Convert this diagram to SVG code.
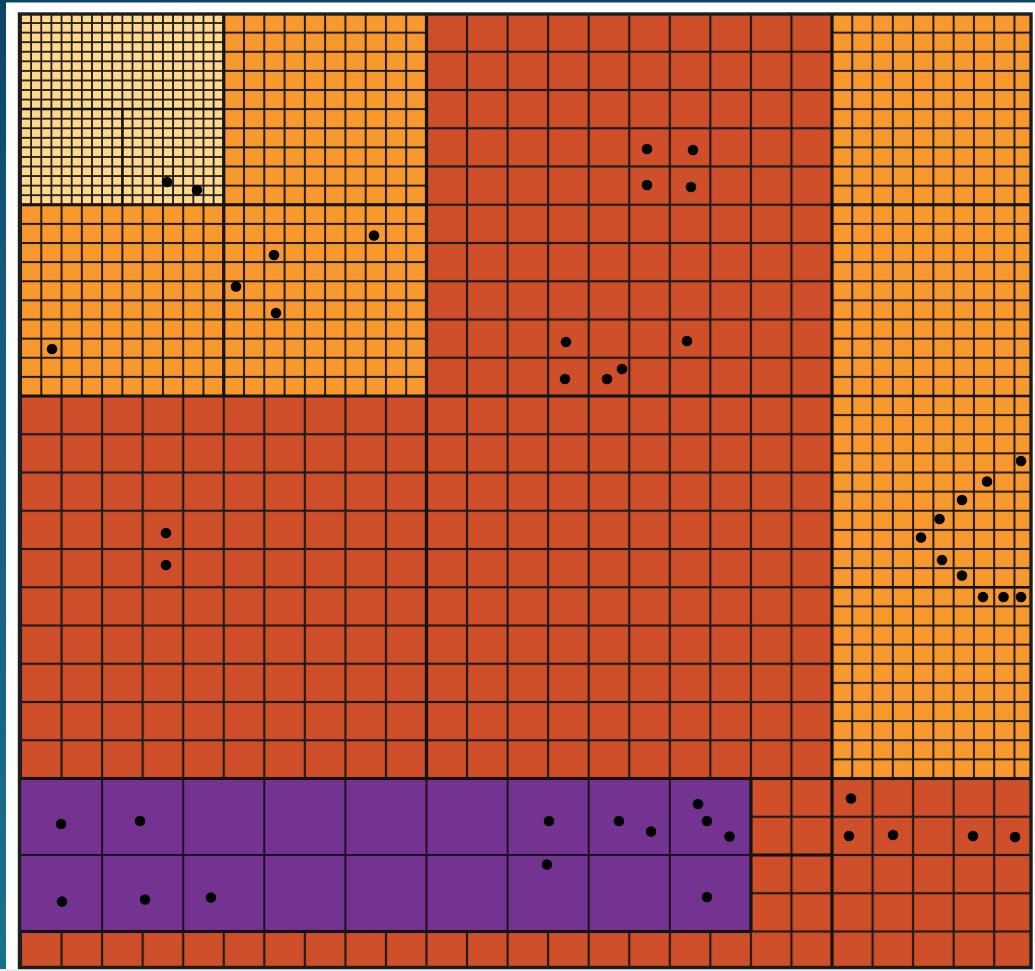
<svg xmlns="http://www.w3.org/2000/svg" width="1035" height="971" viewBox="0 0 1035 971">
  <defs>
    <linearGradient id="bgBlue" x1="0" y1="0" x2="0" y2="1">
      <stop offset="0" stop-color="#0a4466"/>
      <stop offset="0.3" stop-color="#145a80"/>
      <stop offset="1" stop-color="#1a6f8e"/>
    </linearGradient>
    <pattern id="pRed" patternUnits="userSpaceOnUse" x="21" y="13.5" width="40.55" height="38.25">
      <rect width="40.55" height="38.25" fill="#cf4f2b" stroke="#211a16" stroke-width="2.2"/>
    </pattern>
    <pattern id="pOrange" patternUnits="userSpaceOnUse" x="21" y="13.5" width="20.275" height="19.125">
      <rect width="20.275" height="19.125" fill="#f7992c" stroke="#211a16" stroke-width="2"/>
    </pattern>
    <pattern id="pYellow" patternUnits="userSpaceOnUse" x="21" y="13.5" width="10.1375" height="9.5625">
      <rect width="10.1375" height="9.5625" fill="#fed88e" stroke="#211a16" stroke-width="1.8"/>
    </pattern>
    <style>
      .thick { stroke: #161210; stroke-width: 3.2; fill: none; }
      .mid { stroke: #161210; stroke-width: 2.5; fill: none; }
      .pline { stroke: #1d1220; stroke-width: 2; fill: none; }
      .dot { fill: #000000; }
    </style>
  </defs>

  <g id="background">
    <rect x="0" y="0" width="1035" height="971" fill="#ffffff"/>
    <rect x="0" y="0" width="6" height="971" fill="url(#bgBlue)"/>
    <rect x="0" y="0" width="1035" height="2.5" fill="#0a4466"/>
    <rect x="0" y="969" width="1035" height="2" fill="#eeeeee"/>
  </g>

  <g id="cells">
    <rect id="red-base" x="19" y="13" width="1013" height="956" fill="url(#pRed)"/>
    <rect id="orange-left" x="19" y="13" width="407.5" height="383" fill="url(#pOrange)"/>
    <rect id="orange-right" x="832" y="13" width="200" height="765.5" fill="url(#pOrange)"/>
    <rect id="yellow" x="19" y="13" width="204.75" height="191.75" fill="url(#pYellow)"/>
    <g id="purple">
      <rect x="21" y="778.5" width="729.9" height="153" fill="#753391"/>
      <path class="pline" d="M102.1,778.5V931.5 M183.2,778.5V931.5 M264.3,778.5V931.5 M345.4,778.5V931.5 M426.5,778.5V931.5 M507.6,778.5V931.5 M588.7,778.5V931.5 M669.8,778.5V931.5 M21,855H750.9"/>
    </g>
  </g>

  <g id="partition-lines">
    <path class="thick" d="M223.75,13.5V396 M426.5,13.5V778.5 M832,13.5V968 M19,204.75H426.5 M832,204.75H1032 M19,396H832 M19,778.5H1032 M19,931.5H750.9 M750.9,778.5V931.5 M750.9,855H832"/>
    <path class="mid" d="M832,396H1032 M832,587.25H1032 M19,109.1H223.75 M122.4,109.1V204.75"/>
    <rect x="19.5" y="14" width="1011.5" height="953.5" fill="none" stroke="#1e1e1e" stroke-width="3.4"/>
  </g>

  <g id="points">
    <circle class="dot" cx="167" cy="182" r="5.3"/>
    <circle class="dot" cx="197" cy="190" r="5.3"/>
    <circle class="dot" cx="374" cy="235.5" r="5.3"/>
    <circle class="dot" cx="274" cy="255" r="5.3"/>
    <circle class="dot" cx="236" cy="286.5" r="5.3"/>
    <circle class="dot" cx="276" cy="313" r="5.3"/>
    <circle class="dot" cx="52" cy="349" r="5.3"/>
    <circle class="dot" cx="647" cy="149" r="5.3"/>
    <circle class="dot" cx="693" cy="150" r="5.3"/>
    <circle class="dot" cx="647" cy="185" r="5.3"/>
    <circle class="dot" cx="691" cy="187" r="5.3"/>
    <circle class="dot" cx="566" cy="342" r="5.3"/>
    <circle class="dot" cx="687" cy="341" r="5.3"/>
    <circle class="dot" cx="565" cy="379" r="5.3"/>
    <circle class="dot" cx="607" cy="379" r="5.3"/>
    <circle class="dot" cx="622" cy="369" r="5.3"/>
    <circle class="dot" cx="166" cy="533" r="5.3"/>
    <circle class="dot" cx="166" cy="565" r="5.3"/>
    <circle class="dot" cx="1021" cy="461" r="5.3"/>
    <circle class="dot" cx="987" cy="481.5" r="5.3"/>
    <circle class="dot" cx="962" cy="500" r="5.3"/>
    <circle class="dot" cx="939.5" cy="519" r="5.3"/>
    <circle class="dot" cx="921" cy="537.5" r="5.3"/>
    <circle class="dot" cx="942" cy="560" r="5.3"/>
    <circle class="dot" cx="962" cy="575.5" r="5.3"/>
    <circle class="dot" cx="983" cy="597" r="5.3"/>
    <circle class="dot" cx="1003.5" cy="597" r="5.3"/>
    <circle class="dot" cx="1021" cy="597" r="5.3"/>
    <circle class="dot" cx="61" cy="824" r="5.3"/>
    <circle class="dot" cx="140" cy="821" r="5.3"/>
    <circle class="dot" cx="62" cy="901.5" r="5.3"/>
    <circle class="dot" cx="145" cy="899.5" r="5.3"/>
    <circle class="dot" cx="211" cy="897.5" r="5.3"/>
    <circle class="dot" cx="549" cy="821" r="5.3"/>
    <circle class="dot" cx="547" cy="864.5" r="5.3"/>
    <circle class="dot" cx="619" cy="821" r="5.3"/>
    <circle class="dot" cx="651" cy="831.5" r="5.3"/>
    <circle class="dot" cx="698" cy="804" r="5.3"/>
    <circle class="dot" cx="707" cy="821" r="5.3"/>
    <circle class="dot" cx="729.5" cy="836.5" r="5.3"/>
    <circle class="dot" cx="707" cy="897" r="5.3"/>
    <circle class="dot" cx="851" cy="798.5" r="5.3"/>
    <circle class="dot" cx="849" cy="836" r="5.3"/>
    <circle class="dot" cx="893" cy="835" r="5.3"/>
    <circle class="dot" cx="973" cy="836" r="5.3"/>
    <circle class="dot" cx="1015" cy="837" r="5.3"/>
  </g>
</svg>
